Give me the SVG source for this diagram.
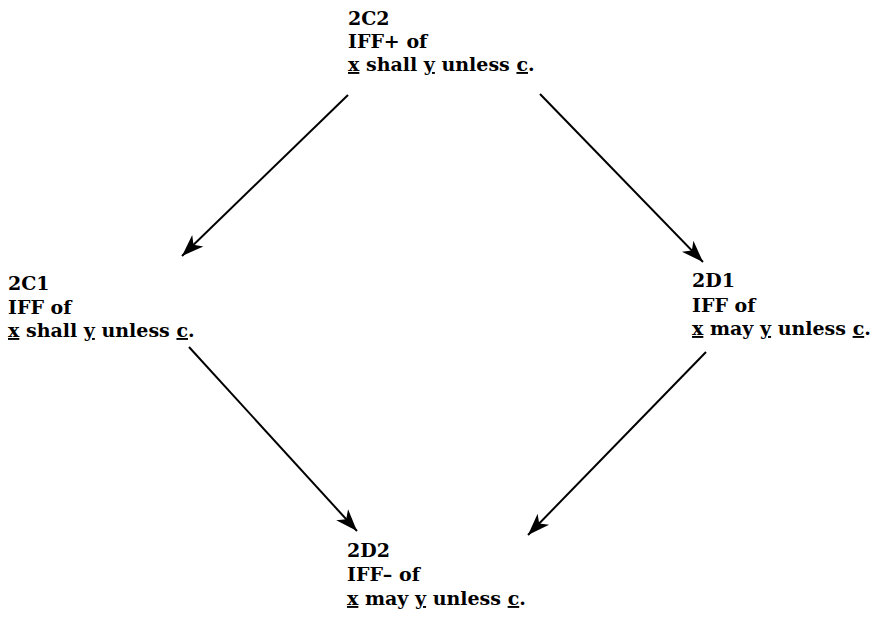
<svg xmlns="http://www.w3.org/2000/svg" width="886" height="620" viewBox="0 0 886 620">
<style>
text{font-family:"DejaVu Serif","Liberation Serif",serif;font-weight:bold;font-size:19px;fill:#000}
.u{text-decoration:underline}
.c{stroke:#000;stroke-width:2;fill:none}
</style>
<defs>
<marker id="ah" markerUnits="userSpaceOnUse" markerWidth="30" markerHeight="20" refX="22" refY="10" orient="auto" viewBox="0 0 30 20">
<path d="M22,10 L0,2 L6,10 L0,18 Z" fill="#000"/>
</marker>
</defs>
<rect width="886" height="620" fill="#fff"/>
<g id="connectors">
<line class="c" x1="348" y1="95" x2="182" y2="256" marker-end="url(#ah)"/>
<line class="c" x1="540" y1="94" x2="703" y2="262" marker-end="url(#ah)"/>
<line class="c" x1="189" y1="347" x2="357" y2="531" marker-end="url(#ah)"/>
<line class="c" x1="706" y1="352" x2="528" y2="535" marker-end="url(#ah)"/>
</g>
<g id="n2C2">
<text x="348" y="25">2C2</text>
<text x="348" y="48">IFF+ of</text>
<text x="348" y="71"><tspan class="u">x</tspan> shall <tspan class="u">y</tspan> unless <tspan class="u">c</tspan>.</text>
</g>
<g id="n2C1">
<text x="8" y="290">2C1</text>
<text x="8" y="314">IFF of</text>
<text x="8" y="337"><tspan class="u">x</tspan> shall <tspan class="u">y</tspan> unless <tspan class="u">c</tspan>.</text>
</g>
<g id="n2D1">
<text x="692" y="287">2D1</text>
<text x="692" y="312">IFF of</text>
<text x="692" y="335"><tspan class="u">x</tspan> may <tspan class="u">y</tspan> unless <tspan class="u">c</tspan>.</text>
</g>
<g id="n2D2">
<text x="347" y="557">2D2</text>
<text x="347" y="581">IFF– of</text>
<text x="347" y="605"><tspan class="u">x</tspan> may <tspan class="u">y</tspan> unless <tspan class="u">c</tspan>.</text>
</g>
</svg>
